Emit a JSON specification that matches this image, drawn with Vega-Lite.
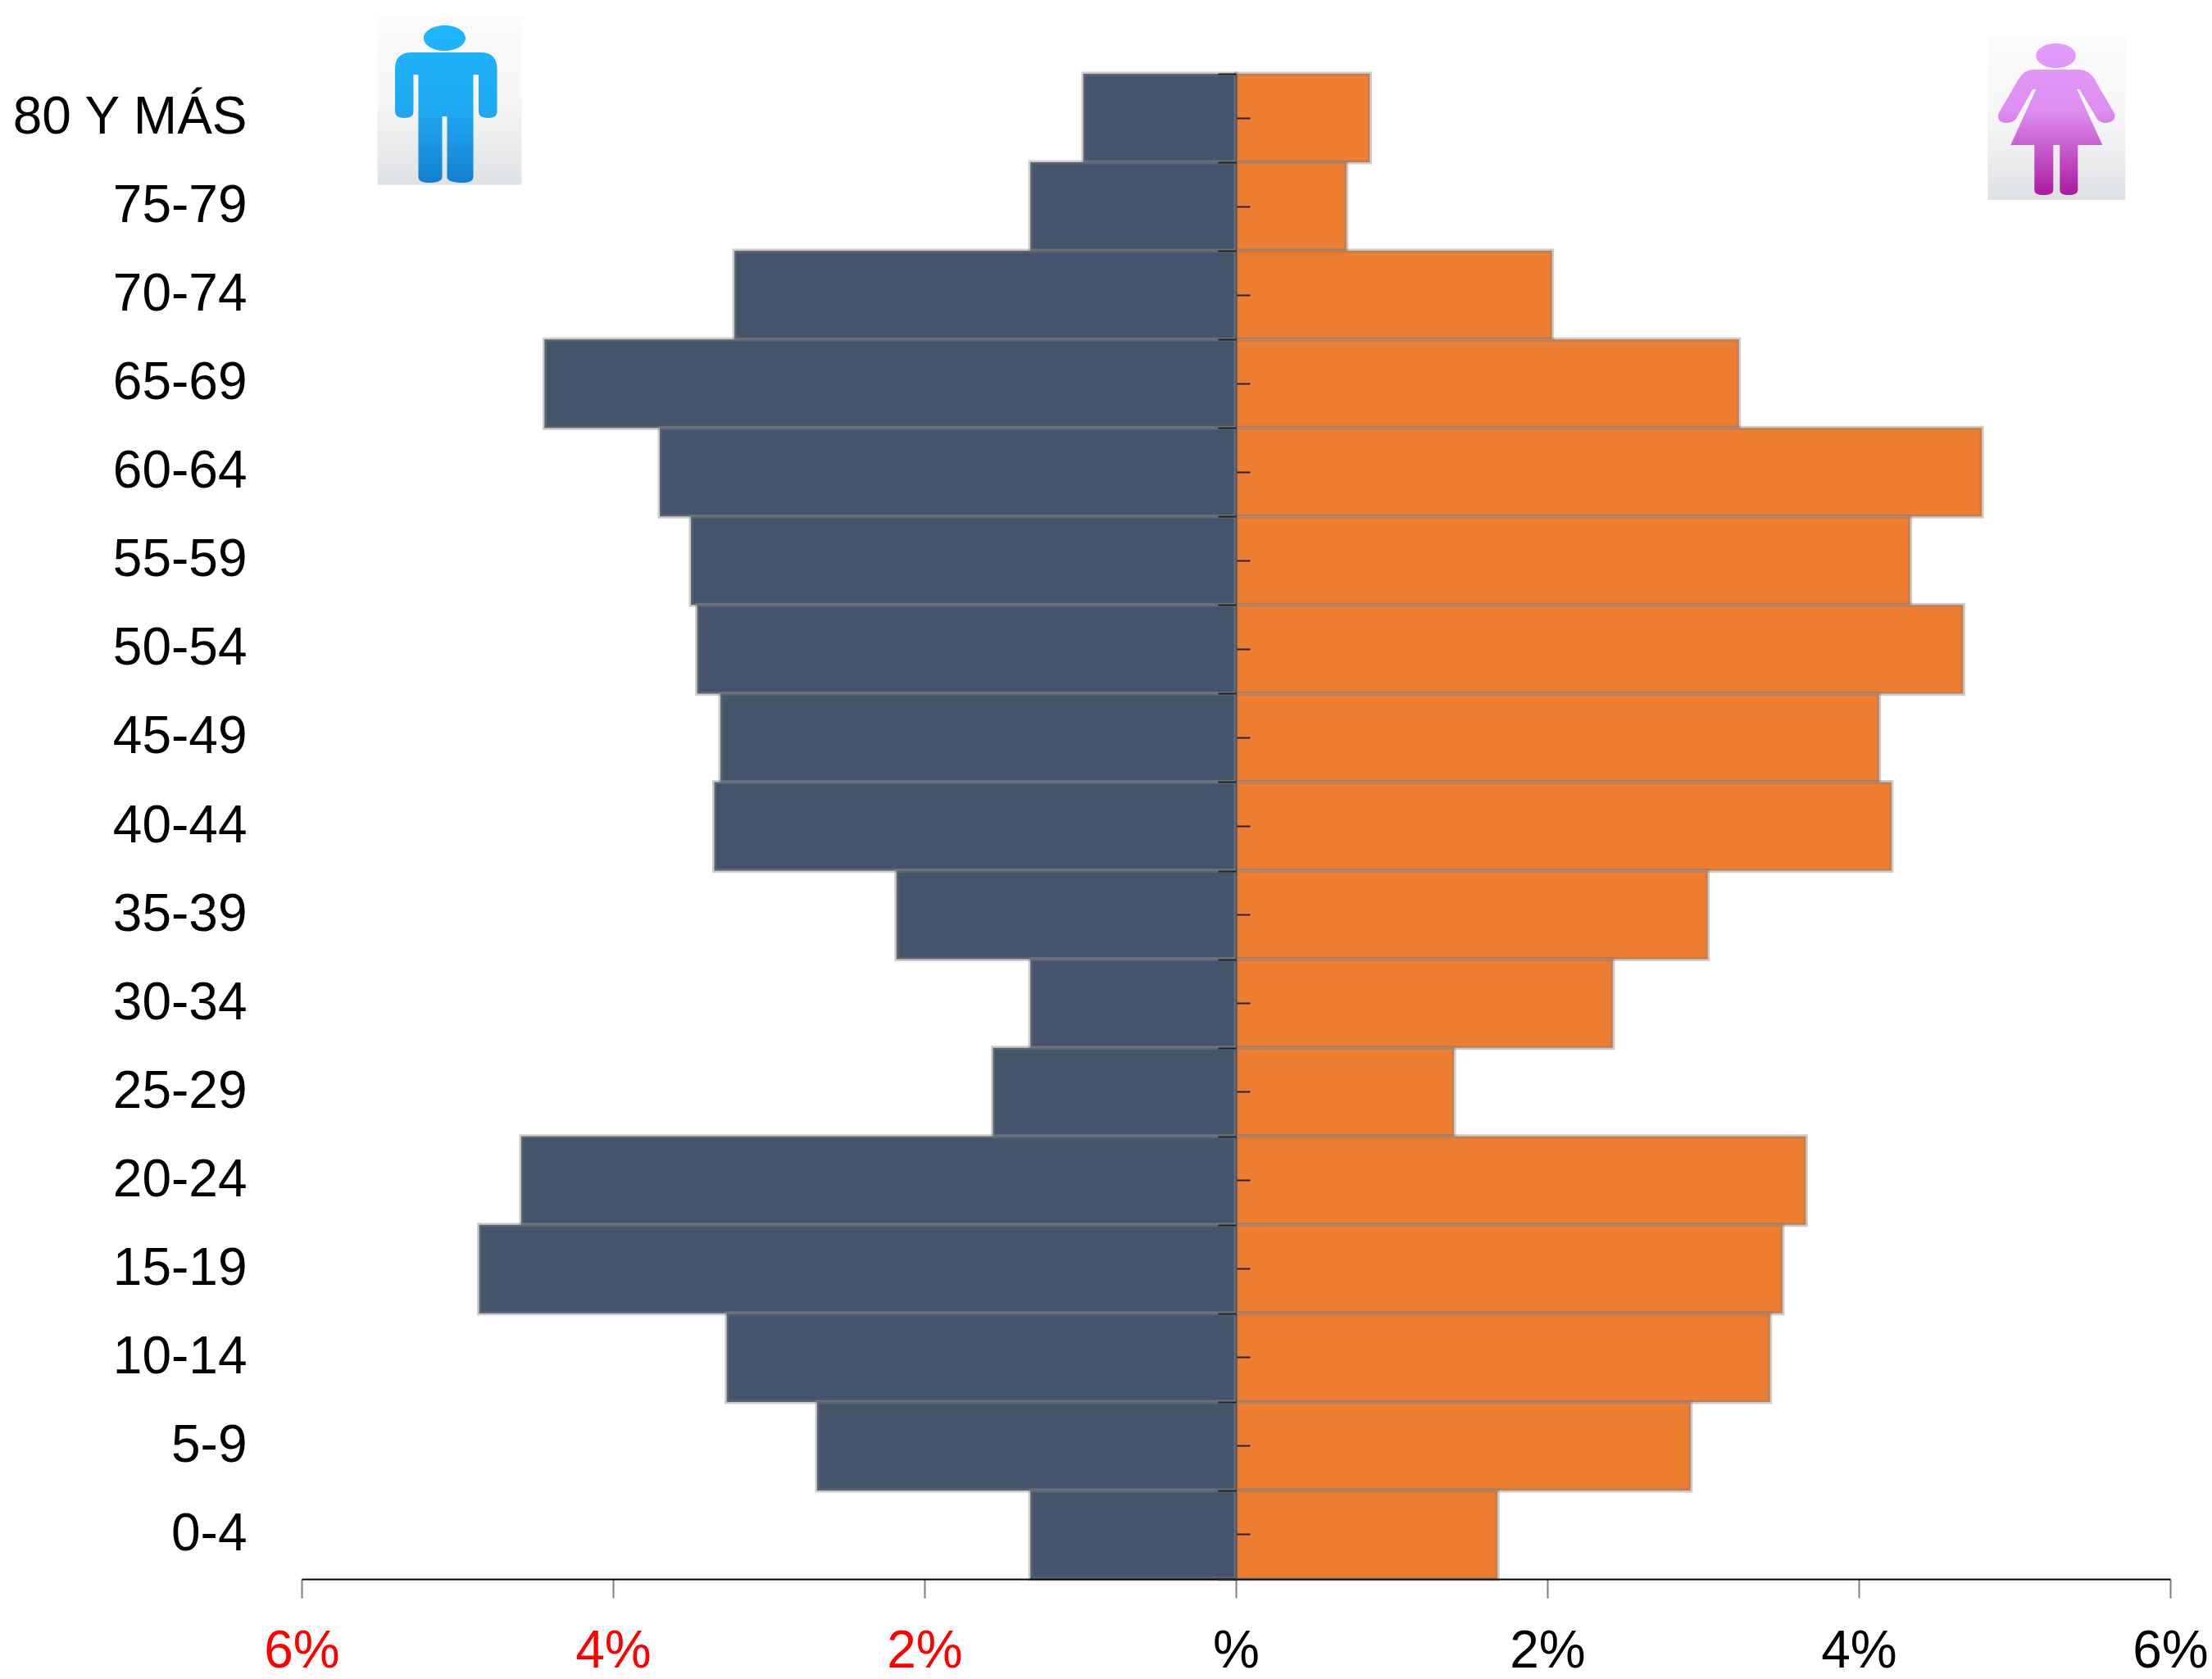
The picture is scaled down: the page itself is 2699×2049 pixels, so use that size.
{
"$schema":"https://vega.github.io/schema/vega-lite/v6.json",
"width":2280,"height":1837,
"autosize":{"type":"none"},
"padding":{"left":368,"top":90,"right":51,"bottom":122},
"background":"white",
"config":{"view":{"stroke":null}},
"datasets":{"bars":[
{"age":"80 Y MÁS","sex":"Hombres","pct":-0.98},{"age":"75-79","sex":"Hombres","pct":-1.32},{"age":"70-74","sex":"Hombres","pct":-3.22},{"age":"65-69","sex":"Hombres","pct":-4.44},{"age":"60-64","sex":"Hombres","pct":-3.70},{"age":"55-59","sex":"Hombres","pct":-3.50},{"age":"50-54","sex":"Hombres","pct":-3.46},{"age":"45-49","sex":"Hombres","pct":-3.31},{"age":"40-44","sex":"Hombres","pct":-3.35},{"age":"35-39","sex":"Hombres","pct":-2.18},{"age":"30-34","sex":"Hombres","pct":-1.32},{"age":"25-29","sex":"Hombres","pct":-1.56},{"age":"20-24","sex":"Hombres","pct":-4.59},{"age":"15-19","sex":"Hombres","pct":-4.86},{"age":"10-14","sex":"Hombres","pct":-3.27},{"age":"5-9","sex":"Hombres","pct":-2.69},{"age":"0-4","sex":"Hombres","pct":-1.32},
{"age":"80 Y MÁS","sex":"Mujeres","pct":0.86},{"age":"75-79","sex":"Mujeres","pct":0.71},{"age":"70-74","sex":"Mujeres","pct":2.03},{"age":"65-69","sex":"Mujeres","pct":3.23},{"age":"60-64","sex":"Mujeres","pct":4.79},{"age":"55-59","sex":"Mujeres","pct":4.33},{"age":"50-54","sex":"Mujeres","pct":4.67},{"age":"45-49","sex":"Mujeres","pct":4.13},{"age":"40-44","sex":"Mujeres","pct":4.21},{"age":"35-39","sex":"Mujeres","pct":3.03},{"age":"30-34","sex":"Mujeres","pct":2.42},{"age":"25-29","sex":"Mujeres","pct":1.40},{"age":"20-24","sex":"Mujeres","pct":3.66},{"age":"15-19","sex":"Mujeres","pct":3.51},{"age":"10-14","sex":"Mujeres","pct":3.43},{"age":"5-9","sex":"Mujeres","pct":2.92},{"age":"0-4","sex":"Mujeres","pct":1.68}
],
"male":[{"age":"80 Y MÁS","pct":-5.05}],
"female":[{"age":"80 Y MÁS","pct":5.27}]},
"resolve":{"axis":{"y":"independent"},"scale":{"y":"shared","x":"shared"}},
"layer":[
{"data":{"name":"bars"},
 "mark":{"type":"bar","stroke":"#808080","strokeOpacity":0.4,"strokeWidth":5},
 "encoding":{
  "y":{"field":"age","type":"nominal","sort":null,
   "scale":{"domain":["80 Y MÁS","75-79","70-74","65-69","60-64","55-59","50-54","45-49","40-44","35-39","30-34","25-29","20-24","15-19","10-14","5-9","0-4"],"paddingInner":0,"paddingOuter":0},
   "axis":{"orient":"left","title":null,"domain":false,"ticks":false,"labelFont":"Liberation Sans","labelFontSize":64,"labelColor":"black","labelPadding":67,"labelLimit":0,"grid":false}},
  "x":{"field":"pct","type":"quantitative","scale":{"domain":[-6,6],"nice":false,"zero":false},
   "axis":{"orient":"bottom","title":null,"values":[-6,-4,-2,0,2,4,6],"grid":false,"domainColor":"black","domainWidth":2,"tickColor":"#7f7f7f","tickWidth":2,"tickSize":23,"labelFont":"Liberation Sans","labelFontSize":64,"labelPadding":33,"labelFlush":false,"labelBound":false,
    "labelExpr":"datum.value==0?'%':abs(datum.value)+'%'",
    "labelColor":{"condition":{"test":"datum.value<0","value":"red"},"value":"black"},"zindex":1}},
  "color":{"field":"sex","type":"nominal","scale":{"domain":["Hombres","Mujeres"],"range":["#44546A","#ED7D31"]},"legend":null}
 }},
{"data":{"name":"bars"},
 "mark":{"type":"point","opacity":0},
 "encoding":{
  "y":{"field":"age","type":"nominal","sort":null,
   "axis":{"orient":"right","offset":-1140,"title":null,"labels":false,"domain":true,"domainColor":"#555555","domainWidth":2,"ticks":true,"tickColor":"#222222","tickWidth":2,"tickSize":17,"tickBand":"center","grid":false,"zindex":1}},
  "x":{"field":"pct","type":"quantitative"}
 }},
{"data":{"name":"bars"},
 "mark":{"type":"point","opacity":0},
 "encoding":{
  "y":{"field":"age","type":"nominal","sort":null,
   "axis":{"orient":"left","offset":-1140,"title":null,"labels":false,"domain":false,"ticks":true,"tickColor":"#222222","tickWidth":2,"tickSize":22,"tickBand":"extent","grid":false,"zindex":1}},
  "x":{"field":"pct","type":"quantitative"}
 }},
{"data":{"name":"male"},
 "mark":{"type":"point","filled":true,"opacity":1,"size":4,"strokeWidth":0,
  "shape":"M-88,-123.5 L88,-123.5 L88,81.5 L-88,81.5 Z",
  "fill":{"gradient":"linear","x1":0,"y1":0,"x2":0,"y2":1,"stops":[{"offset":0,"color":"#fbfbfb"},{"offset":0.5,"color":"#f6f6f6"},{"offset":1,"color":"#dfe2e5"}]}},
 "encoding":{"y":{"field":"age","type":"nominal","sort":null,"axis":null},"x":{"field":"pct","type":"quantitative"}}},
{"data":{"name":"male"},
 "mark":{"type":"point","filled":true,"opacity":1,"size":4,"strokeWidth":0,
  "shape":"M-46,-80 L38,-80 Q58,-80 58,-60 L58,-8 Q58,0 47,0 Q35.5,0 35.5,-8 L35.5,-53 L29,-53 L29,72 Q29,79 17,79 Q-3,79 -3,72 L-3,-2 L-9,-2 L-9,72 Q-9,79 -25,79 Q-38,79 -38,72 L-38,-53 L-44,-53 L-44,-8 Q-44,0 -55,0 Q-66.5,0 -66.5,-8 L-66.5,-60 Q-66.5,-80 -46,-80 Z M-31.5,-97.5 A25.5,15.5 0 1 1 19.5,-97.5 A25.5,15.5 0 1 1 -31.5,-97.5 Z",
  "fill":{"gradient":"linear","x1":0,"y1":0,"x2":0,"y2":1,"stops":[{"offset":0,"color":"#1fb6ff"},{"offset":0.55,"color":"#1ea8f2"},{"offset":1,"color":"#1380cf"}]}},
 "encoding":{"y":{"field":"age","type":"nominal","sort":null,"axis":null},"x":{"field":"pct","type":"quantitative"}}},
{"data":{"name":"female"},
 "mark":{"type":"point","filled":true,"opacity":1,"size":4,"strokeWidth":0,
  "shape":"M-84,-100 L84,-100 L84,100 L-84,100 Z",
  "fill":{"gradient":"linear","x1":0,"y1":0,"x2":0,"y2":1,"stops":[{"offset":0,"color":"#fbfbfb"},{"offset":0.5,"color":"#f6f6f6"},{"offset":1,"color":"#dfe2e5"}]}},
 "encoding":{"y":{"field":"age","type":"nominal","sort":null,"axis":null},"x":{"field":"pct","type":"quantitative"}}},
{"data":{"name":"female"},
 "mark":{"type":"point","filled":true,"opacity":1,"size":4,"strokeWidth":0,
  "shape":"M-29,-59 L27,-59 Q39,-59 46,-48 L71,-5 Q73,5 60,6 Q54,6 50,2 L28,-35 L25,-35 L56,33 L26,33 L26,88 Q26,94 14,94 Q4,94 4,88 L4,33 L-4,33 L-4,88 Q-4,94 -16,94 Q-27,94 -27,88 L-27,33 L-56,33 L-25,-35 L-29,-35 L-50,2 Q-55,6 -62,6 Q-73,5 -71,-5 L-46,-48 Q-39,-59 -29,-59 Z M-25,-76 A24.3,15 0 1 1 23.6,-76 A24.3,15 0 1 1 -25,-76 Z",
  "fill":{"gradient":"linear","x1":0,"y1":0,"x2":0,"y2":1,"stops":[{"offset":0,"color":"#e49cff"},{"offset":0.45,"color":"#dd8ef0"},{"offset":1,"color":"#ab1a9f"}]}},
 "encoding":{"y":{"field":"age","type":"nominal","sort":null,"axis":null},"x":{"field":"pct","type":"quantitative"}}}
]
}
